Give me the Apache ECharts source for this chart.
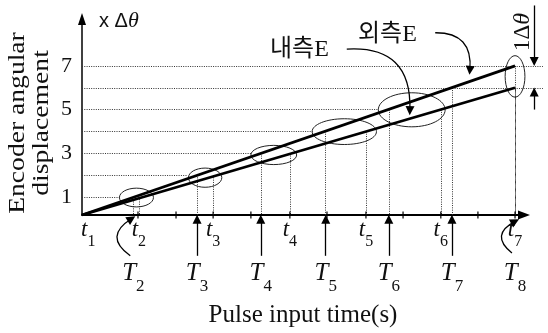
<!DOCTYPE html>
<html><head><meta charset="utf-8">
<script src="https://cdn.jsdelivr.net/npm/echarts@6/dist/echarts.min.js"></script>
<style>html,body{margin:0;padding:0;background:#fff}#c{width:548px;height:333px}</style>
</head><body><div id="c"></div>
<script>
// ---------- data ----------
const yTickLabels = [1, 3, 5, 7];
const levels = [1, 2, 3, 4, 5, 6, 7];
const axisCross = 0.17;                         // displacement value where time axis sits
const outerLine = [[0, 0.17], [7, 7]];          // 외측E
const innerLine = [[0, 0.17], [7, 6]];          // 내측E
const pulseSubs = ['2', '3', '4', '5', '6', '7', '8'];
const pulseTimes = [0.83, 1.86, 2.89, 3.94, 4.96, 5.98, 7.0];   // T2..T8
const pulseLevels = [1, 2, 3, 4, 5, 6, 7];
const encSubs = ['1', '2', '3', '4', '5', '6', '7'];
const encTimes = [0.1, 0.92, 2.12, 3.36, 4.59, 5.80, 7.0];      // t1..t7
const encLevels = [null, 1, 2, 3, 4, 5, 6];
const tickTimes = [0.905, 1.52, 2.12, 2.73, 3.36, 3.96, 4.59, 5.19, 5.80, 6.40, 7.0];
const levelLineEnds = [0.61, 1.71, 2.75, 3.73, 4.78, 7.45, 7.45];
const ellipses = [            // [centre time, centre level, half-width, half-height]
  [0.88, 0.97, 0.275, 0.43],
  [1.99, 1.88, 0.27, 0.44],
  [3.10, 2.92, 0.37, 0.44],
  [4.24, 3.99, 0.52, 0.59],
  [5.33, 4.99, 0.54, 0.78],
  [7.0, 6.52, 0.16, 0.95]
];
const straightArrowTimes = [1.86, 2.89, 3.94, 4.96, 5.98];       // T3..T7
const curvedArrows = [
  { from: [0.78, -1.7], to: [0.80, 0.0], curve: 0.75 },
  { from: [6.95, -1.57], to: [7.0, -0.12], curve: 0.76 },
  { from: [4.28, 7.77], to: [5.30, 4.95], curve: 0.55 },
  { from: [5.71, 8.52], to: [6.27, 6.8], curve: 0.55 }
];
const deltaArrows = [
  { from: [7.31, 9.77], to: [7.31, 7.2] },
  { from: [7.31, 5.0], to: [7.31, 5.8] }
];

// ---------- build ----------
const serif = 'Liberation Serif';
const dotted = { color: '#333', width: 1, type: [1, 1.3], opacity: 1 };
const hSegs = levels.map((lv, i) => ({ coords: [[0, lv], [levelLineEnds[i], lv]] }));
const vSegs = [];
pulseTimes.forEach((t, i) => vSegs.push({ coords: [[t, pulseLevels[i]], [t, axisCross]] }));
encTimes.forEach((t, i) => { if (encLevels[i] != null) vSegs.push({ coords: [[t, encLevels[i]], [t, axisCross]] }); });
const upArrows = straightArrowTimes.map(t => ({ coords: [[t, -1.7], [t, axisCross - 0.2]] }));
const curved = curvedArrows.map(a => ({ coords: [a.from, a.to], lineStyle: { curveness: a.curve } }));
const deltas = deltaArrows.map(a => ({ coords: [a.from, a.to] }));

function nearest(arr, v) { let b = 0; arr.forEach((x, i) => { if (Math.abs(x - v) < Math.abs(arr[b] - v)) b = i; }); return b; }

const chart = echarts.init(document.getElementById('c'), null, { renderer: 'canvas' });
chart.setOption({
  animation: false,
  backgroundColor: '#fff',
  grid: { left: 82, right: 24, top: 19, bottom: 112 },
  xAxis: [{
    type: 'value', min: 0, max: 7.145, position: 'bottom',
    axisLine: { show: true, onZero: false, symbol: ['none', 'triangle'], symbolSize: [9, 12], lineStyle: { color: '#000', width: 2 } },
    axisTick: { show: false }, splitLine: { show: false },
    axisLabel: {
      customValues: encTimes, margin: 3,
      formatter: v => '{m|t}{s|' + encSubs[nearest(encTimes, v)] + '}',
      rich: {
        m: { fontFamily: serif, fontStyle: 'italic', fontSize: 23, lineHeight: 32, verticalAlign: 'top', color: '#111' },
        s: { fontFamily: serif, fontSize: 16, lineHeight: 16, verticalAlign: 'bottom', color: '#111' }
      }
    },
    name: 'Pulse input time(s)', nameLocation: 'middle', nameGap: 88,
    nameTextStyle: { fontFamily: serif, fontSize: 25, color: '#111' }
  }, {
    type: 'value', min: 0, max: 7.145, position: 'bottom',
    axisLine: { show: false, onZero: false }, axisTick: { show: false }, splitLine: { show: false },
    axisLabel: {
      customValues: pulseTimes, margin: 46,
      formatter: v => '{m|T}{s|' + pulseSubs[nearest(pulseTimes, v)] + '}',
      rich: {
        m: { fontFamily: serif, fontStyle: 'italic', fontSize: 25, lineHeight: 34, verticalAlign: 'top', color: '#111' },
        s: { fontFamily: serif, fontSize: 17, lineHeight: 16, verticalAlign: 'bottom', color: '#111' }
      }
    }
  }],
  yAxis: {
    type: 'value', min: 0.17, max: 9.15,
    axisLine: { show: true, onZero: false, symbol: ['none', 'triangle'], symbolSize: [8, 12], lineStyle: { color: '#000', width: 1.5 } },
    axisTick: { show: false }, splitLine: { show: false },
    axisLabel: { customValues: yTickLabels, margin: 10, fontFamily: serif, fontSize: 22, color: '#111' }
  },
  series: [
    { type: 'lines', coordinateSystem: 'cartesian2d', clip: false, silent: true, symbol: 'none', lineStyle: dotted, data: hSegs.concat(vSegs), z: 1 },
    {
      type: 'custom', clip: false, silent: true, z: 2,
      renderItem: (p, api) => {
        const c = api.coord([api.value(0), api.value(1)]);
        const s = api.size([api.value(2), api.value(3)]);
        return { type: 'ellipse', shape: { cx: c[0], cy: c[1], rx: s[0], ry: s[1] }, style: { fill: 'none', stroke: '#222', lineWidth: 1 } };
      },
      data: ellipses
    },
    { type: 'line', data: outerLine, showSymbol: false, lineStyle: { color: '#000', width: 2.8 }, z: 5 },
    { type: 'line', data: innerLine, showSymbol: false, lineStyle: { color: '#000', width: 2.8 }, z: 5 },
    { type: 'scatter', data: tickTimes.map(t => [t, axisCross]), symbol: 'rect', symbolSize: [1.5, 7], itemStyle: { color: '#000' }, clip: false, silent: true, z: 6 },
    { type: 'lines', coordinateSystem: 'cartesian2d', clip: false, silent: true, symbol: ['none', 'triangle'], symbolSize: 9,
      lineStyle: { color: '#000', width: 1.3, opacity: 1 }, data: upArrows.concat(curved).concat(deltas), z: 6 }
  ],
  graphic: [
    { type: 'text', x: 30, y: 123, rotation: Math.PI / 2, scaleX: 1.15,
      style: { text: 'Encoder angular\ndisplacement', font: '24px "Liberation Serif"', fill: '#111', align: 'center', verticalAlign: 'middle', textAlign: 'center', textVerticalAlign: 'middle', lineHeight: 24 } },
    { type: 'text', x: 99, y: 21,
      style: { text: '{a|x Δ}{b|θ}', fill: '#111', align: 'left', verticalAlign: 'middle', textAlign: 'left', textVerticalAlign: 'middle',
        rich: { a: { fontFamily: 'Liberation Sans', fontSize: 20, fill: '#111' }, b: { fontFamily: serif, fontStyle: 'italic', fontSize: 22, fill: '#111' } } } },
    { type: 'text', x: 523, y: 32, rotation: Math.PI / 2,
      style: { text: '{a|1Δ}{b|θ}', fill: '#111', align: 'center', verticalAlign: 'middle', textAlign: 'center', textVerticalAlign: 'middle',
        rich: { a: { fontFamily: serif, fontSize: 23, fill: '#111' }, b: { fontFamily: serif, fontStyle: 'italic', fontSize: 24, fill: '#111' } } } },
    { type: 'text', x: 270, y: 50,
      style: { text: '내측E', font: '24px "Liberation Serif", "Noto Sans CJK KR"', fill: '#111', verticalAlign: 'middle', textVerticalAlign: 'middle' } },
    { type: 'text', x: 358, y: 35,
      style: { text: '외측E', font: '24px "Liberation Serif", "Noto Sans CJK KR"', fill: '#111', verticalAlign: 'middle', textVerticalAlign: 'middle' } }
  ]
});
</script></body></html>
